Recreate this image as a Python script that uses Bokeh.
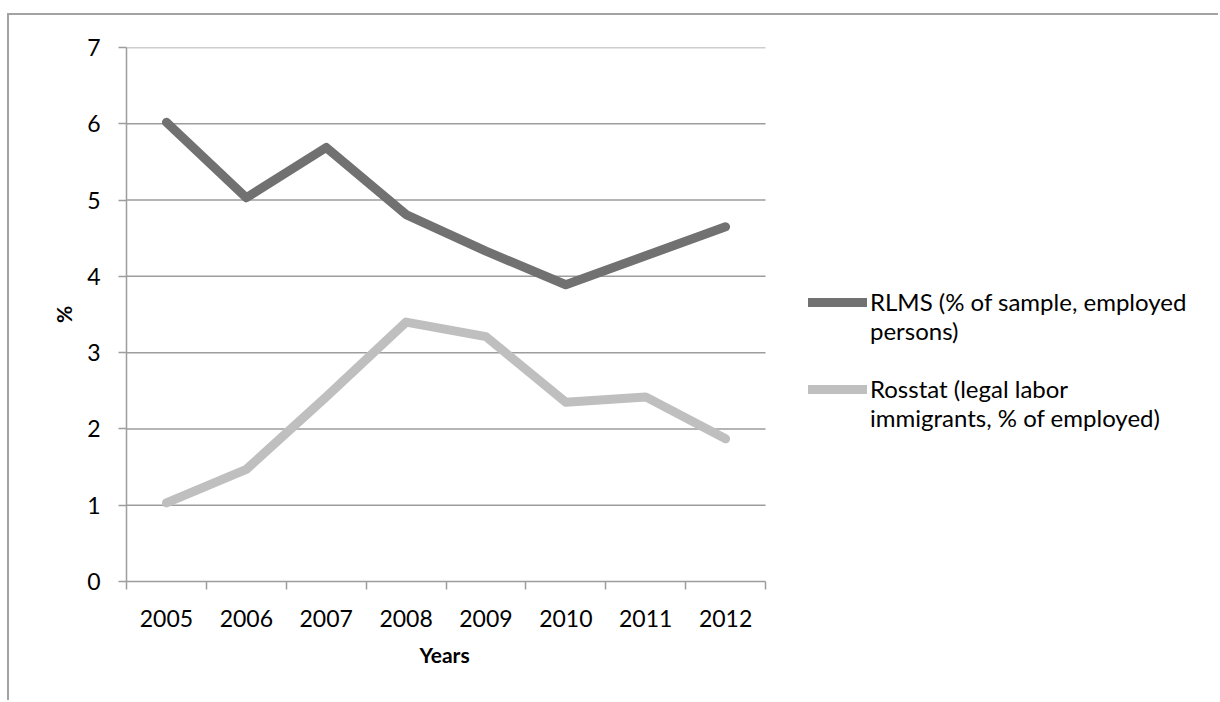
from bokeh.plotting import figure
from bokeh.models import (Range1d, FixedTicker, Legend, LegendItem, ColumnDataSource, Title)
from bokeh.embed import file_html
from bokeh.resources import INLINE

years = ["2005", "2006", "2007", "2008", "2009", "2010", "2011", "2012"]
rlms = [6.02, 5.03, 5.69, 4.81, 4.33, 3.89, 4.27, 4.65]
rosstat = [1.03, 1.47, 2.42, 3.40, 3.21, 2.35, 2.42, 1.87]
y_ticks = [0, 1, 2, 3, 4, 5, 6, 7]
rlms_label = "RLMS (% of sample, employed\npersons)"
rosstat_label = "Rosstat (legal labor\nimmigrants, % of employed)"
x_title = "Years"
y_title = "%"

FONT = "Lato"
GRID = "#9d9d9d"

n = len(years)
xs = [i + 0.5 for i in range(n)]
src = ColumnDataSource(dict(x=xs, rlms=rlms, rosstat=rosstat))

# frame spans to the right canvas edge; the plotted area occupies the first 639 px
W, H = 1211, 687
LEFT, TOP, BOTTOM = 117, 32, 121
AREA_W = 639
frame_w = W - LEFT
x_end = n * frame_w / AREA_W

p = figure(width=W, height=H, output_backend="svg", toolbar_location=None,
           x_range=Range1d(0, x_end), y_range=Range1d(0, y_ticks[-1]),
           min_border_left=LEFT, min_border_right=0, min_border_top=TOP,
           min_border_bottom=BOTTOM)
p.styles = {"margin-left": "7px", "margin-top": "13px",
            "border-left": "2px solid #a3a3a3", "border-top": "2px solid #a3a3a3"}
p.outline_line_color = None
p.background_fill_color = "white"
p.border_fill_color = "white"

# axes
p.xaxis.bounds = (0, n)
p.xaxis.ticker = FixedTicker(ticks=xs, minor_ticks=list(range(n + 1)))
p.xaxis.major_label_overrides = {x: y for x, y in zip(xs, years)}
p.xaxis.major_tick_out = 0
p.xaxis.major_tick_in = 0
p.xaxis.minor_tick_out = 8
p.xaxis.minor_tick_in = 0
p.xaxis.minor_tick_line_color = GRID
p.xaxis.minor_tick_line_width = 1.5
p.xaxis.axis_line_color = GRID
p.xaxis.axis_line_width = 1.5
p.xaxis.major_label_text_font = FONT
p.xaxis.major_label_text_font_size = "23px"
p.xaxis.major_label_text_color = "black"
p.xaxis.major_label_standoff = 20

# x-axis title centred under the plotted area (not the whole frame)
p.add_layout(Title(text=x_title, align="left", offset=293, standoff=21,
                   text_font=FONT, text_font_size="21px", text_font_style="bold",
                   text_color="black"), "below")

p.yaxis.ticker = FixedTicker(ticks=y_ticks, minor_ticks=[])
p.yaxis.major_tick_out = 8
p.yaxis.major_tick_in = 0
p.yaxis.major_tick_line_color = GRID
p.yaxis.major_tick_line_width = 1.5
p.yaxis.axis_line_color = GRID
p.yaxis.axis_line_width = 1.5
p.yaxis.major_label_text_font = FONT
p.yaxis.major_label_text_font_size = "23px"
p.yaxis.major_label_text_color = "black"
p.yaxis.major_label_standoff = 18
p.yaxis.axis_label = y_title
p.yaxis.axis_label_text_font = FONT
p.yaxis.axis_label_text_font_size = "21px"
p.yaxis.axis_label_text_font_style = "bold"
p.yaxis.axis_label_text_color = "black"
p.yaxis.axis_label_standoff = 8

p.xgrid.visible = False
p.ygrid.visible = False
grid_y = y_ticks[1:]
p.segment(x0=[0] * len(grid_y), x1=[n] * len(grid_y), y0=grid_y, y1=grid_y,
          line_color=GRID, line_width=1.5)

r1 = p.line("x", "rlms", source=src, line_color="#717171", line_width=9,
            line_cap="round", line_join="round")
r2 = p.line("x", "rosstat", source=src, line_color="#bfbfbf", line_width=9,
            line_cap="round", line_join="round")

# leading blank line keeps the legend swatch level with the first text line
legend = Legend(items=[LegendItem(label="\n" + rlms_label, renderers=[r1]),
                       LegendItem(label="\n" + rosstat_label, renderers=[r2])],
                location=(682, 149), glyph_width=59, glyph_height=20,
                label_standoff=3, spacing=0, padding=0, margin=0,
                border_line_color=None, background_fill_alpha=0,
                label_text_font=FONT, label_text_font_size="24px",
                label_text_color="black")
p.add_layout(legend, "center")

open("out.html", "w").write(file_html(p, INLINE))
